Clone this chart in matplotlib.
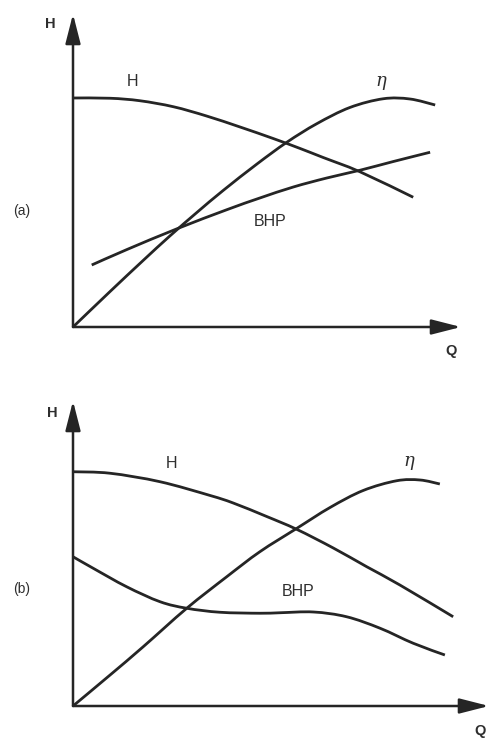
import numpy as np
import matplotlib
matplotlib.use("Agg")
import matplotlib.pyplot as plt
from matplotlib.path import Path
from matplotlib.patches import PathPatch

# ---------------- data (arbitrary units) ----------------
# Panel (a)
q_head_a = [0, 10.3, 18.6, 27.9, 37.1, 46.4, 55.6, 63.1, 69.5, 79.7, 94.5]
head_a   = [91.6, 91.5, 90.5, 88.1, 84.4, 80.0, 75.4, 71.4, 67.8, 62.1, 51.9]
q_eff_a  = [0, 10.3, 19.4, 26.9, 34.4, 41.7, 51.1, 59.4, 67.7, 76.9, 86.2, 93.6, 100.6]
eff_a    = [0, 14.2, 26.5, 36.4, 45.8, 54.6, 65.2, 73.9, 81.3, 87.8, 91.3, 91.2, 88.8]
q_bhp_a  = [5.2, 15.0, 28.9, 42.7, 51.9, 61.2, 70.5, 79.7, 89.0, 99.2]
bhp_a    = [24.8, 31.0, 39.3, 46.9, 51.6, 56.0, 59.6, 62.7, 66.2, 69.9]

# Panel (b)
q_head_b = [0, 10.3, 24.2, 38.1, 44.5, 53.8, 62.1, 72.3, 81.6, 90.8, 105.6]
head_b   = [93.7, 93.1, 89.7, 84.2, 81.2, 75.8, 70.7, 63.2, 55.7, 48.4, 35.7]
q_eff_b  = [0, 10.3, 19.5, 31.6, 42.7, 51.9, 62.1, 71.4, 80.6, 89.9, 96.4, 101.9]
eff_b    = [0, 12.4, 23.7, 39.1, 51.7, 61.7, 71.0, 79.4, 86.2, 90.1, 90.4, 88.8]
q_bhp_b  = [0, 5.6, 14.9, 24.2, 31.6, 40.8, 51.9, 57.5, 66.8, 76.0, 85.3, 94.5, 103.3]
bhp_b    = [59.7, 55.1, 47.7, 41.7, 39.1, 37.5, 37.1, 37.3, 37.6, 35.7, 31.1, 25.1, 20.4]

curve_labels = ["H", "\u03b7", "BHP"]
panel_labels = ["(a)", "(b)"]
axis_labels = ["H", "Q"]

# ---------------- layout ----------------
W, H = 489, 740
PX_Q, PX_Y = 3.6, 2.5          # pixels per data unit
INK = "#252525"
TXT = "#2e2e2e"

fig = plt.figure(figsize=(W / 100, H / 100), dpi=100)
fig.patch.set_facecolor("white")


def make_axes(x0, y0, x1, y1):
    ax = fig.add_axes([x0 / W, 1 - y0 / H, (x1 - x0) / W, (y0 - y1) / H])
    ax.set_xlim(0, (x1 - x0) / PX_Q)
    ax.set_ylim(0, (y0 - y1) / PX_Y)
    ax.axis("off")
    return ax


def smooth_path(xs, ys):
    p = np.column_stack([xs, ys]).astype(float)
    ext = np.vstack([p[0], p, p[-1]])
    verts = [p[0]]
    codes = [Path.MOVETO]
    for i in range(len(p) - 1):
        p0, p1, p2, p3 = ext[i], ext[i + 1], ext[i + 2], ext[i + 3]
        verts += [p1 + (p2 - p0) / 6.0, p2 - (p3 - p1) / 6.0, p2]
        codes += [Path.CURVE4] * 3
    return Path(verts, codes)


def draw_curve(ax, xs, ys):
    ax.add_patch(PathPatch(smooth_path(xs, ys), fill=False, lw=2.0,
                           edgecolor=INK, capstyle="butt", joinstyle="round",
                           clip_on=False))


def draw_axes_arrows(ax):
    style = "-|>,head_length=18,head_width=4.6"
    for tip in [(1, 0), (0, 1)]:
        ax.annotate("", xy=tip, xytext=(0, 0), xycoords="axes fraction",
                    textcoords="axes fraction", annotation_clip=False,
                    arrowprops=dict(arrowstyle=style, mutation_scale=1,
                                    lw=1.8, color=INK, shrinkA=0, shrinkB=0))


def to_data(ax_origin, px, py):
    ox, oy = ax_origin
    return (px - ox) / PX_Q, (oy - py) / PX_Y


label_font = dict(family="Liberation Sans", color=TXT, fontsize=11.5)
eta_font = dict(family="DejaVu Serif", style="italic", color=TXT, fontsize=13)

panels = [
    dict(box=(73, 327, 461, 14), curves=[(q_head_a, head_a), (q_eff_a, eff_a), (q_bhp_a, bhp_a)],
         axis_lab=[(50, 24), (451, 351)], panel_lab=(22, 211),
         curve_lab=[(133, 82), (381, 81), (270, 221)]),
    dict(box=(73, 706, 489, 401), curves=[(q_head_b, head_b), (q_eff_b, eff_b), (q_bhp_b, bhp_b)],
         axis_lab=[(52, 413), (480, 731)], panel_lab=(22, 589),
         curve_lab=[(172, 463), (409, 461), (298, 591)]),
]

for pi, pnl in enumerate(panels):
    x0, y0, x1, y1 = pnl["box"]
    ax = make_axes(x0, y0, x1, y1)
    org = (x0, y0)
    draw_axes_arrows(ax)
    for xs, ys in pnl["curves"]:
        draw_curve(ax, xs, ys)
    # axis labels
    for lab, (px, py) in zip(axis_labels, pnl["axis_lab"]):
        ax.text(*to_data(org, px, py), lab, ha="center", va="center",
                fontweight="semibold", **{**label_font, "fontsize": 10.5})
    ax.text(*to_data(org, *pnl["panel_lab"]), panel_labels[pi], ha="center",
            va="center", **{**label_font, "fontsize": 10})
    for lab, (px, py) in zip(curve_labels, pnl["curve_lab"]):
        font = eta_font if lab == "\u03b7" else label_font
        ax.text(*to_data(org, px, py), lab, ha="center", va="center", **font)

fig.savefig("out.png", dpi=100, facecolor="white")
